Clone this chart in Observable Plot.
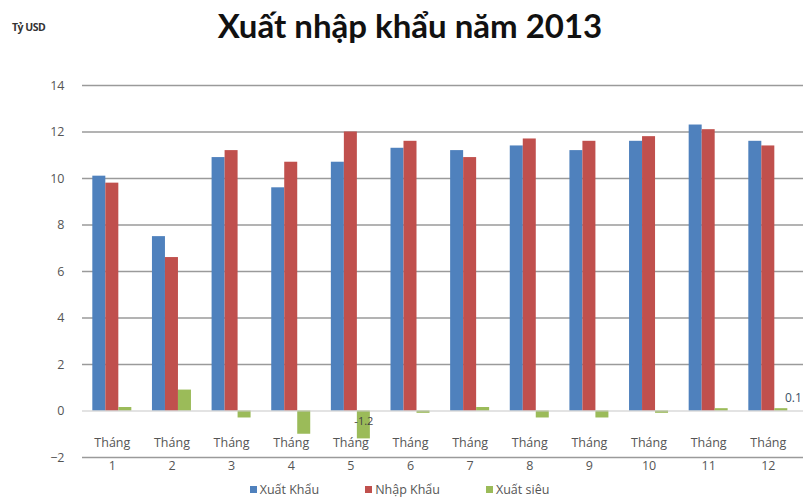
<!DOCTYPE html>
<html>
<head>
<meta charset="utf-8">
<script src="https://cdn.jsdelivr.net/npm/d3@7"></script>
<script src="https://cdn.jsdelivr.net/npm/@observablehq/plot@0.6"></script>
<style>
  html, body { margin: 0; padding: 0; background: #fff; }
  #wrap { position: relative; width: 811px; height: 499px; overflow: hidden; font-family: "Open Sans", "DejaVu Sans", sans-serif; }
  #unit { position: absolute; left: 12px; top: 20px; font-size: 10.5px; font-weight: 700; color: #333; letter-spacing: -0.5px; }
  #title { position: absolute; left: 0; width: 820px; top: 5px; text-align: center; font-family: Lato, "Open Sans", sans-serif; font-weight: 700; font-size: 33px; color: #111; }
  #chart { position: absolute; left: 0; top: 60px; }
  #legend { position: absolute; left: 0; top: 481px; width: 811px; display: flex; justify-content: center; gap: 46px; font-size: 12.5px; color: #555; padding-right: 12px; box-sizing: border-box; }
  #legend span.sw { display: inline-block; width: 7px; height: 7px; margin-right: 3px; vertical-align: middle; position: relative; top: -1px; }
</style>
</head>
<body>
<div id="wrap">
  <div id="unit">Tỷ USD</div>
  <div id="title">Xuất nhập khẩu năm 2013</div>
  <div id="chart"></div>
  <div id="legend"></div>
</div>
<script>
const months = [1, 2, 3, 4, 5, 6, 7, 8, 9, 10, 11, 12];
const monthLabels = ["Tháng\n1", "Tháng\n2", "Tháng\n3", "Tháng\n4", "Tháng\n5", "Tháng\n6", "Tháng\n7", "Tháng\n8", "Tháng\n9", "Tháng\n10", "Tháng\n11", "Tháng\n12"];
const seriesNames = ["Xuất Khẩu", "Nhập Khẩu", "Xuất siêu"];
const seriesColors = ["#4F81BD", "#C0504D", "#9BBB59"];
const exportVals = [10.1, 7.5, 10.9, 9.6, 10.7, 11.3, 11.2, 11.4, 11.2, 11.6, 12.3, 11.6];
const importVals = [9.8, 6.6, 11.2, 10.7, 12.0, 11.6, 10.9, 11.7, 11.6, 11.8, 12.1, 11.4];
const surplusVals = [0.15, 0.9, -0.3, -1.0, -1.2, -0.1, 0.15, -0.3, -0.3, -0.1, 0.1, 0.1];
const yTicks = [-2, 0, 2, 4, 6, 8, 10, 12, 14];
const labelled = [{m: 5, s: 2, text: "-1.2"}, {m: 12, s: 2, text: "0.1"}];

const allVals = [exportVals, importVals, surplusVals];
const barW = 0.218;
const rows = [];
months.forEach((m, i) => {
  allVals.forEach((vals, k) => {
    rows.push({m, k, series: seriesNames[k], v: vals[i], x1: m - 1.5 * barW + k * barW, x2: m - 0.5 * barW + k * barW});
  });
});
const labelRows = labelled.map(d => ({...d, v: allVals[d.s][d.m - 1]}));
const xLabelRows = months.map((m, i) => ({m, top: monthLabels[i].split("\n")[0], bottom: monthLabels[i].split("\n")[1]}));

const plot = Plot.plot({
  width: 811,
  height: 420,
  marginLeft: 82,
  marginRight: 8,
  marginTop: 25,
  marginBottom: 23,
  style: {fontFamily: "Open Sans, DejaVu Sans, sans-serif", fontSize: "12.5px", color: "#555"},
  x: {domain: [0.5, 12.59], axis: null},
  y: {domain: [-2, 14], ticks: yTicks, tickSize: 0, tickPadding: 18, label: null},
  color: {domain: seriesNames, range: seriesColors},
  marks: [
    Plot.ruleY(yTicks.filter(t => t !== 0), {stroke: "#9a9a9a", strokeWidth: 1.4}),
    Plot.rectY(rows, {x1: "x1", x2: "x2", y1: 0, y2: "v", fill: "series"}),
    Plot.ruleY([0], {stroke: "#c8c8c8", strokeWidth: 1.2}),
    Plot.text(xLabelRows, {x: "m", y: -2, text: "top", dy: -15, fill: "#555", fontSize: 12.5}),
    Plot.text(xLabelRows, {x: "m", y: -2, text: "bottom", dy: 8, fill: "#555", fontSize: 12.5}),
    Plot.text(labelRows.filter(d => d.m === 5), {x: d => d.m + barW, y: 0, text: "text", dy: 10, fill: "#444", fontSize: 11}),
    Plot.text(labelRows.filter(d => d.m === 12), {x: d => d.m + barW, y: "v", text: "text", dy: -11, dx: 12, fill: "#3a5066", fontSize: 12})
  ]
});
document.getElementById("chart").appendChild(plot);

const legend = document.getElementById("legend");
seriesNames.forEach((n, i) => {
  const item = document.createElement("div");
  item.innerHTML = `<span class="sw" style="background:${seriesColors[i]}"></span>${n}`;
  legend.appendChild(item);
});
</script>
</body>
</html>
